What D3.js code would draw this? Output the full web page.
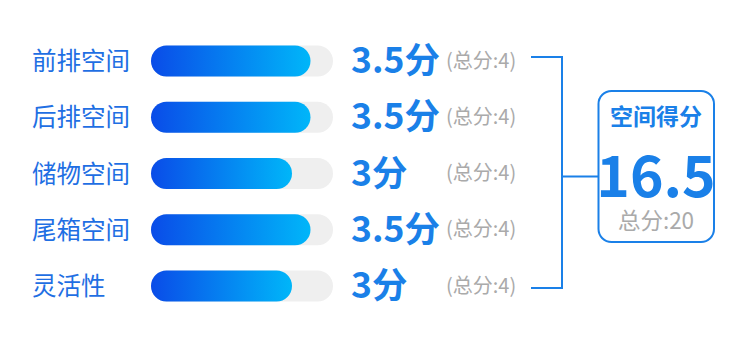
<!DOCTYPE html>
<html><head><meta charset="utf-8">
<script src="https://cdn.jsdelivr.net/npm/d3@7"></script>
<style>body{margin:0;background:#fff}svg{display:block}</style>
</head><body><div id="c"></div>
<script>
const categories = ["前排空间","后排空间","储物空间","尾箱空间","灵活性"];
const scores = [3.5,3.5,3,3.5,3];
const maxScores = [4,4,4,4,4];
const totalTitle = "空间得分";
const totalScore = 16.5;
const totalMax = 20;

const W=750,H=339;
const font='"Noto Sans CJK SC","Noto Sans",sans-serif';
const blue="#1a80e8";
const svg=d3.select("#c").append("svg").attr("width",W).attr("height",H);
const defs=svg.append("defs");
const g=defs.append("linearGradient").attr("id","bg");
g.append("stop").attr("offset","0%").attr("stop-color","#0a4ce8");
g.append("stop").attr("offset","100%").attr("stop-color","#00b6f9");

const y=d3.scalePoint().domain(categories).range([61,286]);
const barH=31, barX=151, trackW=182;
const x=d3.scaleLinear().domain([0,4]).range([30,178]);

const rows=svg.selectAll("g.row").data(categories.map((c,i)=>({c,v:scores[i],m:maxScores[i]})))
  .join("g").attr("class","row").attr("transform",d=>`translate(0,${y(d.c)})`);
rows.append("text").attr("x",32).attr("y",9).attr("fill","#1f6fe3")
  .attr("font-family",font).attr("font-size",24.5).text(d=>d.c);
rows.append("rect").attr("x",barX).attr("y",-barH/2).attr("width",trackW).attr("height",barH)
  .attr("rx",barH/2).attr("fill","#efefef");
rows.append("rect").attr("x",barX).attr("y",-barH/2).attr("width",d=>x(d.v)).attr("height",barH)
  .attr("rx",barH/2).attr("fill","url(#bg)");
rows.append("text").attr("x",351).attr("y",12).attr("fill",blue).attr("font-weight",700)
  .attr("font-family",font).attr("font-size",35.5).text(d=>d.v+"分");
rows.append("text").attr("x",446).attr("y",6.5).attr("fill","#aaaaaa")
  .attr("font-family",font).attr("font-size",20).text(d=>`(总分:${d.m})`);

// bracket
const y0=y(categories[0])-4, y1=y(categories[categories.length-1])+2, ym=176.5;
svg.append("path").attr("d",`M531,${y0}H562V${y1}H531M562,${ym}H598`)
  .attr("fill","none").attr("stroke",blue).attr("stroke-width",2);

// box
svg.append("rect").attr("x",598.5).attr("y",91).attr("width",115.5).attr("height",151)
  .attr("rx",13).attr("fill","#fff").attr("stroke",blue).attr("stroke-width",2);
const cx=656;
svg.append("text").attr("x",cx).attr("y",125).attr("text-anchor","middle").attr("fill",blue)
  .attr("font-weight",700).attr("font-family",font).attr("font-size",23).text(totalTitle);
svg.append("text").attr("x",cx).attr("y",197).attr("text-anchor","middle").attr("fill",blue)
  .attr("font-weight",700).attr("font-family",font).attr("font-size",57).text(totalScore);
svg.append("text").attr("x",cx).attr("y",229).attr("text-anchor","middle").attr("fill","#aaaaaa")
  .attr("font-family",font).attr("font-size",22.5).text(`总分:${totalMax}`);
</script></body></html>
